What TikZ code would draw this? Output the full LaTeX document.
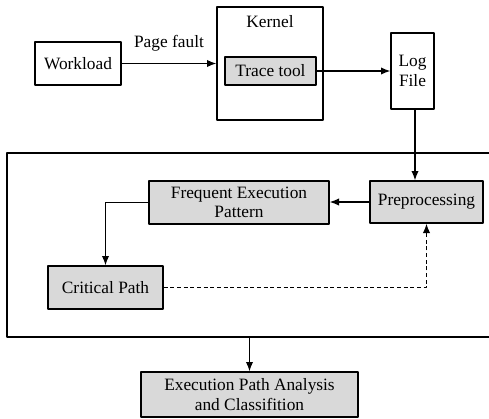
\documentclass[tikz,border=0pt]{standalone}
\usepackage{fontspec}
\setmainfont{Liberation Serif}
\usetikzlibrary{arrows.meta}
\begin{document}
\begin{tikzpicture}[>={Latex[length=7pt,width=5.5pt]},line join=round,font=\fontsize{13}{14.5}\selectfont,x=0.75pt,y=-0.75pt,
		box/.style={draw,line width=1pt,inner sep=0pt,align=center},
		gbox/.style={box,fill=black!15},
		conn/.style={line width=1pt,->}]
	\useasboundingbox (0,0) rectangle (489,418);
	% top row
	\node[box,minimum width=64.5pt,minimum height=32.25pt] (workload) at (78,63.5) {Workload};
	\node[box,minimum width=79.5pt,minimum height=84.75pt] (kernel) at (270,63.5) {};
	\node (klabel) at (270,22) {Kernel};
	\node[gbox,minimum width=68.25pt,minimum height=21pt] (trace) at (270.5,71) {Trace tool};
	\node[box,minimum width=32.25pt,minimum height=57pt] (logfile) at (412.5,71) {Log\\File};
	% analysis part
	\node[box,minimum width=369.75pt,minimum height=138pt] (frame) at (253.5,245) {};
	\node[gbox,minimum width=84.75pt,minimum height=31.5pt] (prep) at (426.5,202) {Preprocessing};
	\node[gbox,minimum width=135pt,minimum height=32.25pt] (fep) at (239,202.5) {Frequent Execution\\Pattern};
	\node[gbox,minimum width=86.25pt,minimum height=32.25pt] (critical) at (105.5,287.5) {Critical Path};
	\node[gbox,minimum width=162.75pt,minimum height=33.75pt] (epa) at (249.5,394.5) {Execution Path Analysis\\and Classifition};
	% connectors
	\draw[conn] (workload.east) -- (workload.east -| kernel.west) node[midway,above=5pt] (pf) {Page fault};
	\draw[conn] (trace.east) -- (trace.east -| logfile.west);
	\draw[conn] (logfile.south -| prep.north) ++(-11.5,0) coordinate (lf) -- (lf |- prep.north);
	\draw[conn] (prep.west) -- (prep.west -| fep.east);
	\draw[conn] (fep.west) -| (critical.north);
	\draw[conn,dash pattern=on 3pt off 2pt] (critical.east) -| (prep.south);
	\draw[conn] (frame.south -| epa.north) -- (epa.north);
\end{tikzpicture}
\end{document}
